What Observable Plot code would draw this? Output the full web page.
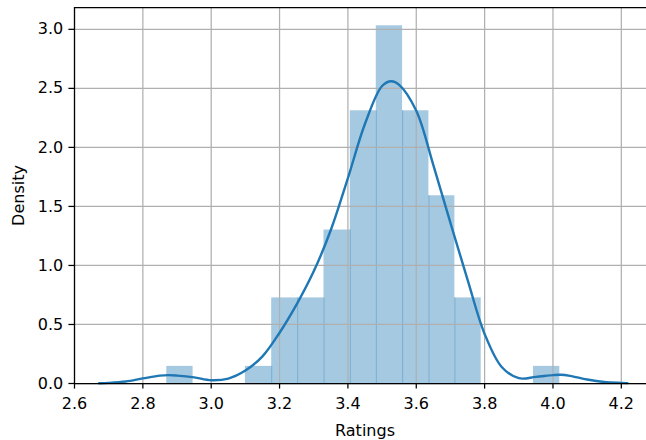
<!DOCTYPE html>
<html>
<head>
<meta charset="utf-8">
<script src="https://cdn.jsdelivr.net/npm/d3@7"></script>
<script src="https://cdn.jsdelivr.net/npm/@observablehq/plot@0.6"></script>
<style>
  html, body { margin: 0; padding: 0; background: #fff; }
  #chart { width: 646px; height: 440px; overflow: hidden; }
</style>
</head>
<body>
<div id="chart"></div>
<script>
// Histogram of ratings (density-normalised), 15 equal bins
const binEdges = [2.87, 2.947, 3.023, 3.10, 3.177, 3.253, 3.33, 3.407, 3.483, 3.56, 3.637, 3.713, 3.79, 3.867, 3.943, 4.02];
const binDensity = [0.145, 0, 0, 0.145, 0.725, 0.725, 1.30, 2.31, 3.03, 2.31, 1.59, 0.725, 0, 0, 0.145];

// Kernel density estimate curve
const kdeX = [2.672, 2.70, 2.75, 2.80, 2.85, 2.875, 2.90, 2.95, 3.00, 3.05, 3.10, 3.15, 3.20, 3.25, 3.30, 3.35, 3.40, 3.45, 3.50, 3.527, 3.55, 3.60, 3.65, 3.70, 3.75, 3.80, 3.85, 3.90, 3.95, 4.00, 4.022, 4.05, 4.10, 4.15, 4.20, 4.218];
const kdeY = [0.002, 0.005, 0.017, 0.043, 0.067, 0.071, 0.067, 0.052, 0.028, 0.042, 0.11, 0.23, 0.43, 0.67, 0.95, 1.30, 1.74, 2.20, 2.52, 2.56, 2.53, 2.31, 1.85, 1.36, 0.88, 0.42, 0.14, 0.045, 0.056, 0.071, 0.074, 0.065, 0.034, 0.013, 0.005, 0.003];

// Axis ticks
const xTicks = [2.6, 2.8, 3.0, 3.2, 3.4, 3.6, 3.8, 4.0, 4.2];
const yTicks = [0, 0.5, 1.0, 1.5, 2.0, 2.5, 3.0];

const bars = binDensity
  .map((d, i) => ({x1: binEdges[i], x2: binEdges[i + 1], density: d}))
  .filter(b => b.density > 0);

// darker seams where neighbouring translucent bars touch
const seams = binEdges.slice(1, -1)
  .map((x, i) => ({x, top: Math.min(binDensity[i], binDensity[i + 1])}))
  .filter(s => s.top > 0);

const kde = kdeX.map((x, i) => ({x, density: kdeY[i]}));

const blue = "#1f77b4";
const grid = "#b0b0b0";
const lw = 1.25;

const chart = Plot.plot({
  width: 646,
  height: 440,
  marginLeft: 74,
  marginRight: -9,
  marginTop: 7,
  marginBottom: 57,
  style: {fontFamily: "DejaVu Sans", fontSize: "16px", color: "#000", background: "#fff"},
  x: {domain: [2.6, 4.3]},
  y: {domain: [0, 3.185]},
  marks: [
    Plot.rectY(bars, {x1: "x1", x2: "x2", y: "density", fill: blue, fillOpacity: 0.4}),
    Plot.ruleX(seams, {x: "x", y1: 0, y2: "top", stroke: blue, strokeOpacity: 0.35, strokeWidth: 1}),
    Plot.gridX(xTicks, {stroke: grid, strokeOpacity: 1, strokeWidth: lw}),
    Plot.gridY(yTicks, {stroke: grid, strokeOpacity: 1, strokeWidth: lw}),
    Plot.line(kde, {x: "x", y: "density", stroke: blue, strokeWidth: 2.4, curve: "catmull-rom"}),
    Plot.ruleX([2.6], {stroke: "#000", strokeWidth: lw}),
    Plot.ruleY([0], {stroke: "#000", strokeWidth: lw}),
    Plot.ruleY([3.185], {stroke: "#000", strokeWidth: lw}),
    Plot.axisX(xTicks, {
      tickFormat: d => d.toFixed(1), tickSize: 5.6, tickPadding: 8.6, strokeWidth: lw,
      label: "Ratings", labelAnchor: "center", labelArrow: "none", labelOffset: 52
    }),
    Plot.axisY(yTicks, {
      tickFormat: d => d.toFixed(1), tickSize: 5.6, tickPadding: 5.6, strokeWidth: lw,
      label: "Density", labelAnchor: "center", labelArrow: "none", labelOffset: 62
    })
  ]
});

document.getElementById("chart").appendChild(chart);
</script>
</body>
</html>
